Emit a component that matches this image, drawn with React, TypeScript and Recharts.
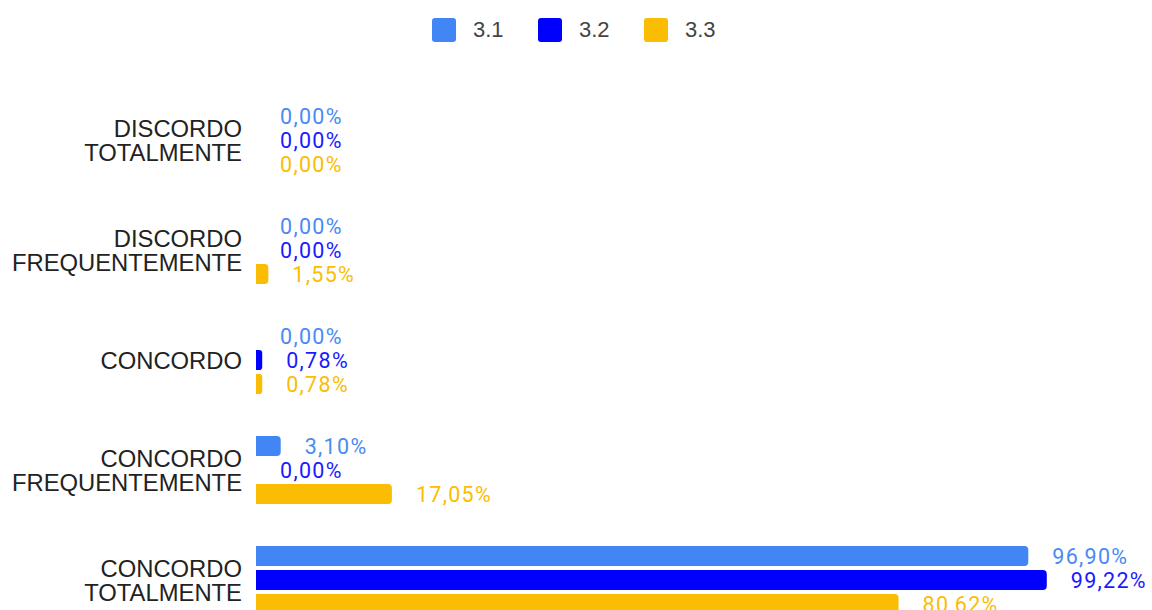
import React from 'react';
import { BarChart, Bar, XAxis, YAxis, LabelList } from 'recharts';

const categories = ['DISCORDO\nTOTALMENTE', 'DISCORDO\nFREQUENTEMENTE', 'CONCORDO', 'CONCORDO\nFREQUENTEMENTE', 'CONCORDO\nTOTALMENTE'];
const series31 = [0, 0, 0, 3.1, 96.9];
const series32 = [0, 0, 0.78, 0, 99.22];
const series33 = [0, 1.55, 0.78, 17.05, 80.62];
const seriesNames = ['3.1', '3.2', '3.3'];
const seriesColors = ['#4285F4', '#0000FF', '#FBBC04'];
const labelColors = ['#4a8af4', '#1a1aff', '#fbbc04'];

const data = categories.map((c, i) => ({
  name: c,
  s31: series31[i],
  s32: series32[i],
  s33: series33[i],
}));

const fmt = (v: any) => Number(v).toFixed(2).replace('.', ',') + '%';

const CategoryTick = (props: any) => {
  const { x, y, payload } = props;
  const lines = String(payload.value).split('\n');
  const lh = 24;
  const start = y - ((lines.length - 1) * lh) / 2;
  return (
    <text x={x} y={start} textAnchor="end" fill="#222222" fontFamily="'Liberation Sans', Arial, sans-serif" fontSize={23.8}>
      {lines.map((l, i) => (
        <tspan key={i} x={x} y={start + i * lh} dy="0.36em">{l}</tspan>
      ))}
    </text>
  );
};

const makeLabel = (color: string) => (props: any) => {
  const { x, y, width, height, value } = props;
  if (value === undefined || value === null) return null;
  const w = Number(value) === 0 ? 0 : Number(width) || 0;
  return (
    <text
      x={Number(x) + w + 24}
      y={Number(y) + Number(height) / 2}
      dy="0.36em"
      textAnchor="start"
      fill={color}
      fontFamily="Roboto, sans-serif"
      fontSize={21.5}
      letterSpacing={1.3}
    >
      {fmt(value)}
    </text>
  );
};

const BarShape = (props: any) => {
  const { x, y, width, height, fill, value } = props;
  const v = Array.isArray(value) ? value[1] - value[0] : value;
  if (!v || width < 0.5) return null;
  const r = Math.min(4, width / 2, height / 2);
  const x0 = x, x1 = x + width, y0 = y, y1 = y + height;
  const d = `M${x0},${y0} L${x1 - r},${y0} Q${x1},${y0} ${x1},${y0 + r} L${x1},${y1 - r} Q${x1},${y1} ${x1 - r},${y1} L${x0},${y1} Z`;
  return <path d={d} fill={fill} />;
};

const keys = ['s31', 's32', 's33'];
const minSize = (v: any) => (Number(v) === 0 ? 0.01 : 0);

export default function App() {
  return (
    <div style={{ position: 'absolute', left: 0, top: 0, width: 1152, height: 610, overflow: 'hidden', background: '#fff' }}>
      <div style={{ position: 'absolute', left: 432, top: 17, display: 'flex', fontFamily: "'Liberation Sans', Arial, sans-serif", fontSize: 22, color: '#444' }}>
        {seriesNames.map((n, i) => (
          <div key={n} style={{ display: 'flex', alignItems: 'center', width: 106 }}>
            <div style={{ width: 24, height: 24, borderRadius: 3, background: seriesColors[i], marginRight: 17 }} />
            <span>{n}</span>
          </div>
        ))}
      </div>
      <BarChart
        width={1152}
        height={640}
        data={data}
        layout="vertical"
        margin={{ top: 85, right: 99, bottom: 5, left: 0 }}
        barSize={20}
        barGap={4}
      >
        <XAxis type="number" domain={[0, 100]} hide />
        <YAxis
          type="category"
          dataKey="name"
          width={256}
          axisLine={false}
          tickLine={false}
          tickSize={0}
          tickMargin={14}
          tick={<CategoryTick />}
          interval={0}
        />
        {keys.map((k, i) => (
          <Bar
            key={k}
            dataKey={k}
            name={seriesNames[i]}
            fill={seriesColors[i]}
            minPointSize={minSize}
            shape={<BarShape />}
            isAnimationActive={false}
          >
            <LabelList dataKey={k} content={makeLabel(labelColors[i])} />
          </Bar>
        ))}
      </BarChart>
    </div>
  );
}
